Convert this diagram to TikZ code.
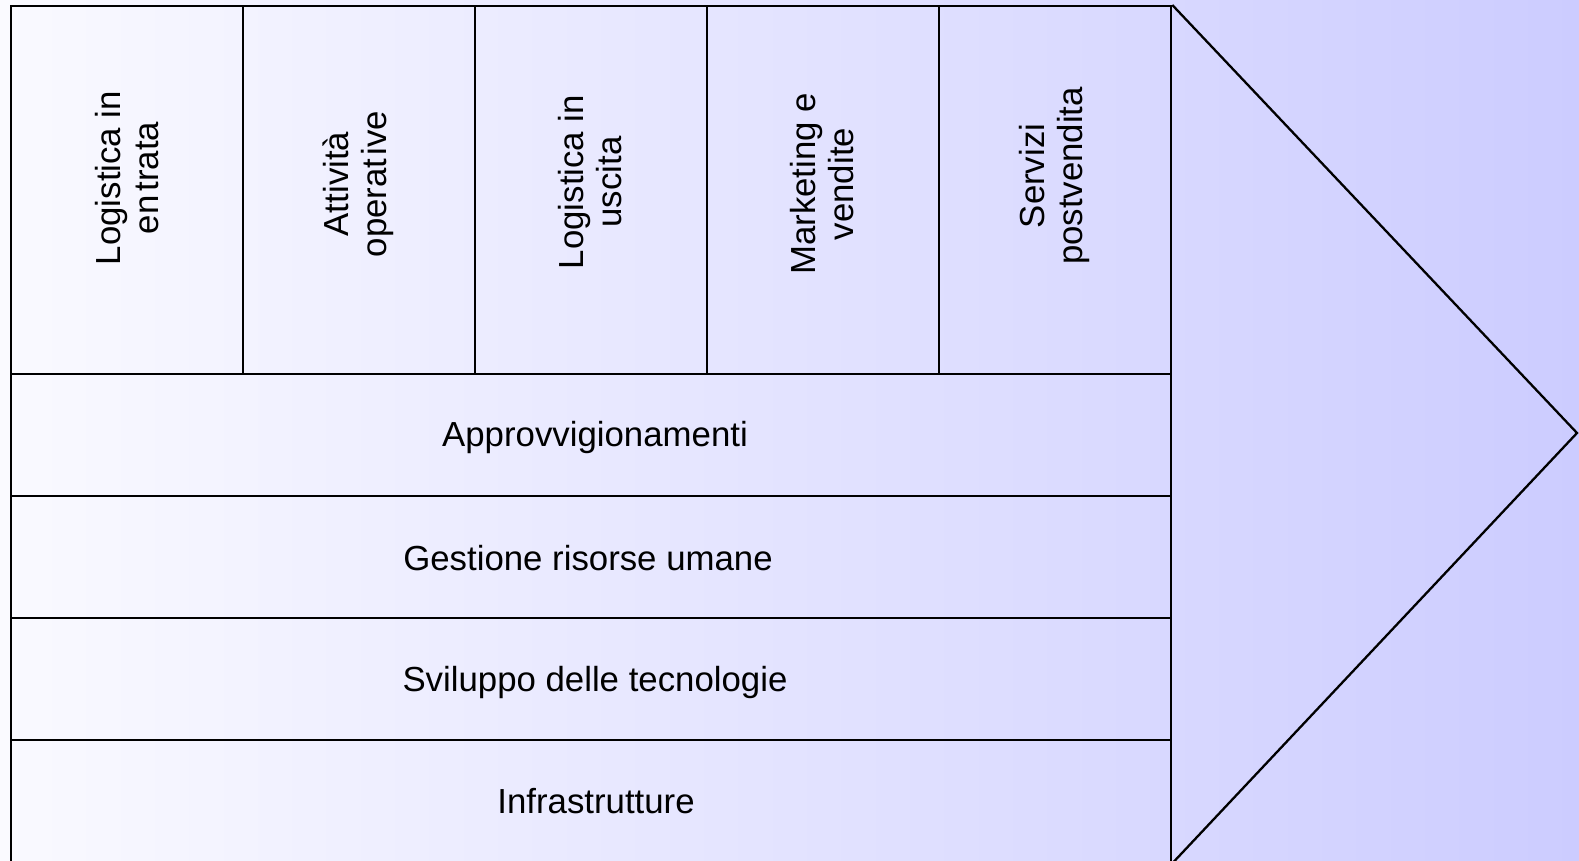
\documentclass[tikz,border=0pt]{standalone}
\usepackage{fontspec}
\setmainfont{Liberation Sans}
\definecolor{bgL}{RGB}{250,250,255}
\definecolor{bgR}{RGB}{204,204,255}
\begin{document}
\begin{tikzpicture}[x=1pt,y=-1pt,
  cell/.style={draw=black, line width=2.3pt, inner sep=0pt, anchor=north west},
  colcell/.style={cell, minimum width=232pt, minimum height=368pt},
  rowcell/.style={cell, minimum width=1160pt, minimum height=122pt},
  txt/.style={font=\fontsize{34.8}{38}\selectfont, align=center, inner sep=0pt, text=black},
  vtxt/.style={txt, rotate=90}]
\fill[left color=bgL, right color=bgR] (0,0) rectangle (1579,861);
\useasboundingbox (0,0) rectangle (1579,861);
% primary activities
\node[colcell] (c1) at (10,5) {};
\node[colcell] (c2) at (242,5) {};
\node[colcell] (c3) at (474,5) {};
\node[colcell] (c4) at (706,5) {};
\node[colcell] (c5) at (938,5) {};
% support activities
\node[rowcell] (r1) at (10,373) {};
\node[rowcell] (r2) at (10,495) {};
\node[rowcell] (r3) at (10,617) {};
\node[rowcell] (r4) at (10,739) {};
% arrow head
\coordinate (tip) at (1577,433);
\draw[line width=2.3pt, line join=miter] (c5.north east) -- (tip) -- (r4.south east);
% texts
\node[vtxt] (t1) at (127,178) {Logistica in\\en\kern0.12em trata};
\node[vtxt] (t2) at (358,184) {Attività\\operat\kern0.1em ive};
\node[vtxt] (t3) at (590,182) {Logistica in\\uscita};
\node[vtxt] (t4) at (822,184) {Marketing e\\vendite};
\node[vtxt] (t5) at (1054,176) {Servizi\\postvendita};
\node[txt] (s1) at (595,437) {Approvvigionamenti};
\node[txt] (s2) at (588,558) {Gestione risorse umane};
\node[txt] (s3) at (595,682) {Sviluppo delle tecnologie};
\node[txt] (s4) at (596,801) {Infrastrutture};
\end{tikzpicture}
\end{document}
